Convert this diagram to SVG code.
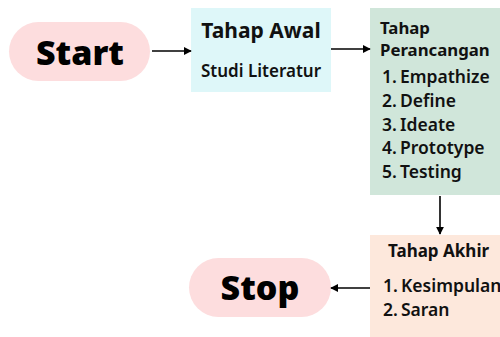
<svg xmlns="http://www.w3.org/2000/svg" width="500" height="337" viewBox="0 0 500 337">
<defs>
<marker id="ah" viewBox="0 0 10 10" refX="9" refY="5" markerWidth="5" markerHeight="5" orient="auto"><path d="M0,0 L10,5 L0,10 Z" fill="#000"/></marker>
<style>
.pill{font-family:"Open Sans","Noto Sans",sans-serif;font-weight:800;font-size:34px;fill:#000;text-anchor:middle}
.h{font-family:"Noto Sans","Open Sans",sans-serif;font-weight:700;fill:#111}
.t{font-family:"Noto Sans","Open Sans",sans-serif;font-weight:600;fill:#111;font-size:17.5px}
.c{stroke:#000;stroke-width:1.6;fill:none;marker-end:url(#ah)}
</style>
</defs>
<rect width="500" height="337" fill="#fff"/>
<g id="start">
<rect x="9" y="22" width="141" height="59" rx="29.5" fill="#fdddde"/>
<text class="pill" x="80" y="65">Start</text>
</g>
<g id="tahap-awal">
<rect x="191" y="8" width="140" height="84" fill="#def7f9"/>
<text class="h" x="261" y="38" font-size="21" text-anchor="middle">Tahap Awal</text>
<text class="t" x="261" y="77" font-size="17" text-anchor="middle" style="font-size:17px">Studi Literatur</text>
</g>
<g id="tahap-perancangan">
<rect x="370" y="8" width="130" height="187" fill="#d0e6da"/>
<text class="h" x="380" y="34" font-size="16.8">Tahap</text>
<text class="h" x="380" y="56" font-size="16.8">Perancangan</text>
<text class="t" x="382" y="83">1.</text><text class="t" x="400" y="83">Empathize</text>
<text class="t" x="382" y="107">2.</text><text class="t" x="400" y="107">Define</text>
<text class="t" x="382" y="131">3.</text><text class="t" x="400" y="131">Ideate</text>
<text class="t" x="382" y="154">4.</text><text class="t" x="400" y="154">Prototype</text>
<text class="t" x="382" y="178">5.</text><text class="t" x="400" y="178">Testing</text>
</g>
<g id="tahap-akhir">
<rect x="370" y="235" width="130" height="102" fill="#fde8dc"/>
<text class="h" x="388" y="257" font-size="17">Tahap Akhir</text>
<text class="t" x="383" y="292">1.</text><text class="t" x="401" y="292">Kesimpulan</text>
<text class="t" x="383" y="316">2.</text><text class="t" x="401" y="316">Saran</text>
</g>
<g id="stop">
<rect x="189" y="258" width="142" height="59" rx="29.5" fill="#fdddde"/>
<text class="pill" x="260" y="300">Stop</text>
</g>
<g id="connectors">
<line class="c" x1="152" y1="51" x2="191" y2="51"/>
<line class="c" x1="331" y1="49" x2="370" y2="49"/>
<line class="c" x1="440" y1="196" x2="440" y2="234"/>
<line class="c" x1="370" y1="288" x2="331" y2="288"/>
</g>
</svg>
